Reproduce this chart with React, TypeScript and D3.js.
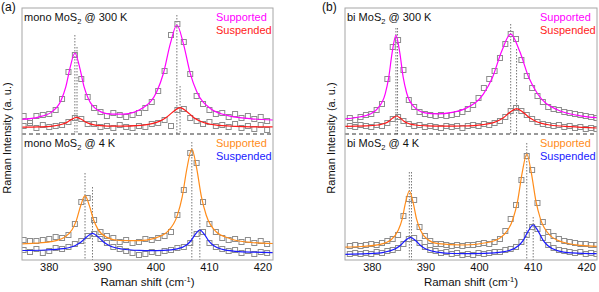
import React, { useEffect, useRef } from "react";
import * as d3 from "d3";

const FONT = "'Liberation Sans', Arial, Helvetica, sans-serif";

const xDomain = [375, 422];
const xTicks = [380, 390, 400, 410, 420];

// measured Raman shifts (cm-1)
const monoShift = [375.3, 376.5, 377.7, 378.9, 380.1, 381.3, 382.5, 383.7, 384.9, 386.1, 387.3, 388.5, 389.7, 390.9, 392.1, 393.3, 394.5, 395.7, 396.9, 398.1, 399.3, 400.5, 401.7, 402.9, 404.1, 405.3, 406.5, 407.7, 408.9, 410.1, 411.3, 412.5, 413.7, 414.9, 416.1, 417.3, 418.5, 419.7, 420.9];
const biShift = [375.9, 376.9, 377.9, 378.9, 379.9, 380.9, 381.9, 382.9, 383.9, 384.9, 385.9, 386.9, 387.9, 388.9, 389.9, 390.9, 391.9, 392.9, 393.9, 394.9, 395.9, 396.9, 397.9, 398.9, 399.9, 400.9, 401.9, 402.9, 403.9, 404.9, 405.9, 406.9, 407.9, 408.9, 409.9, 410.9, 411.9, 412.9, 413.9, 414.9, 415.9, 416.9, 417.9, 418.9, 419.9, 420.9, 421.9];

// measured intensities (a.u.)
const monoRTSup = [18, 13, 18, 19, 20, 24, 35, 62, 79, 55, 37, 26, 22, 18, 21, 19, 17, 19, 21, 26, 32, 43, 63, 99, 110, 92, 60, 38, 30, 24, 20, 21, 17, 20, 16, 18, 15, 17, 13];
const monoRTSus = [8, 11, 6, 9, 7, 8, 9, 12, 16, 15, 10, 10, 7, 8, 6, 9, 7, 6, 8, 7, 10, 11, 14, 8, 24, 25, 16, 13, 10, 12, 8, 9, 7, 10, 6, 8, 5, 9, 4];
const mono4KSup = [20, 19, 19, 20, 21, 23, 22, 25, 36, 58, 62, 40, 28, 24, 22, 18, 20, 17, 18, 21, 20, 22, 24, 28, 45, 70, 107, 97, 58, 36, 28, 22, 20, 21, 18, 20, 17, 19, 16];
const mono4KSus = [10, 8, 11, 7, 9, 12, 11, 13, 16, 19, 24, 26, 21, 17, 13, 11, 9, 7, 5, 6, 8, 7, 9, 10, 12, 13, 17, 26, 28, 17, 13, 11, 9, 10, 7, 9, 6, 8, 7];
const biRTSup = [16, 14, 17, 19, 20, 24, 30, 55, 87, 94, 64, 34, 27, 22, 20, 19, 18, 19, 18, 19, 20, 22, 25, 29, 36, 46, 55, 63, 76, 90, 100, 95, 74, 58, 46, 38, 32, 27, 25, 24, 22, 21, 20, 19, 18, 17, 16];
const biRTSus = [8, 7, 9, 8, 7, 9, 8, 11, 15, 17, 13, 10, 8, 9, 7, 8, 7, 6, 8, 7, 8, 6, 8, 9, 8, 10, 9, 11, 13, 17, 23, 26, 23, 19, 15, 12, 10, 9, 8, 9, 7, 8, 6, 7, 5, 6, 5];
const bi4KSup = [14, 15, 14, 15, 16, 15, 17, 19, 21, 25, 44, 61, 60, 33, 24, 19, 16, 16, 15, 14, 15, 14, 15, 15, 16, 17, 16, 18, 21, 29, 41, 55, 80, 104, 90, 57, 38, 28, 24, 21, 19, 18, 17, 16, 16, 15, 15];
const bi4KSus = [6, 7, 6, 7, 6, 8, 7, 9, 10, 12, 16, 21, 22, 17, 13, 10, 9, 7, 8, 6, 7, 5, 6, 5, 7, 6, 7, 8, 8, 10, 11, 13, 18, 25, 33, 31, 22, 15, 12, 10, 9, 8, 7, 8, 6, 7, 6];

// Lorentzian fits as [shift, intensity]
const monoRTSupFit = [[375, 14.6], [378.1, 16.9], [380.65, 22.4], [382.35, 34.1], [383.2, 47.1], [384.05, 67.4], [384.9, 81], [385.75, 67.7], [386.6, 47.7], [387.45, 35], [389.15, 24], [391.7, 19.8], [394, 19.9], [397.75, 26.5], [400.25, 42.5], [401.5, 61], [402.75, 89.8], [404, 109], [405.25, 89.7], [406.5, 60.7], [407.75, 42.1], [410.25, 25.6], [414, 17.9], [418, 15.2], [422, 14]];
const monoRTSusFit = [[375, 6.8], [378, 7.1], [380.7, 7.9], [382.5, 9.7], [383.4, 11.6], [384.3, 14.6], [385.2, 16.7], [386.1, 14.7], [387, 11.7], [387.9, 9.9], [389.7, 8.3], [392.4, 7.8], [394.2, 7.9], [398.1, 9.2], [400.7, 12.6], [402, 16.4], [403.3, 22.3], [404.6, 26.3], [405.9, 22.3], [407.2, 16.3], [408.5, 12.5], [411.1, 9.1], [415, 7.6], [418, 7.2], [422, 7.1]];
const mono4KSupFit = [[375, 16.2], [377.5, 16.8], [380.4, 18.3], [382.8, 22.2], [384.4, 30.5], [385.2, 39.9], [386, 54.5], [386.8, 64.3], [387.6, 54.6], [388.4, 40.2], [389.2, 30.9], [390.8, 22.9], [393.2, 19.5], [397, 19.3], [399.6, 21.4], [402.3, 28.7], [404.1, 44.9], [405, 63.2], [405.9, 92], [406.8, 111], [407.7, 91.9], [408.6, 63.1], [409.5, 44.8], [411.3, 28.5], [414, 21.3], [418, 17.5], [422, 16.5]];
const mono4KSusFit = [[375, 9.5], [379.4, 10], [382.7, 11.3], [384.9, 14.2], [386, 17.7], [387.1, 23], [388.2, 26.6], [389.3, 22.9], [390.4, 17.5], [391.5, 14], [393.7, 11], [397, 9.6], [399, 9.4], [401.5, 9.7], [404.05, 11.2], [405.75, 14.8], [406.6, 19], [407.45, 25.7], [408.3, 30], [409.15, 25.6], [410, 18.8], [410.85, 14.5], [412.55, 10.6], [415.1, 8.7], [418.5, 7.8], [422, 7.4]];
const biRTSupFit = [[375, 15.2], [379.1, 18.8], [381.1, 25.7], [382.5, 40.2], [383.15, 56.4], [383.8, 81.7], [384.5, 98.6], [385.2, 82], [385.85, 56.9], [386.5, 41], [387.9, 27.1], [389.9, 21.2], [392.3, 20.1], [395, 21.6], [397.4, 25.4], [400.8, 39.9], [402.5, 56.5], [404.2, 82.5], [405.9, 99.8], [407.6, 82.4], [409.3, 56.2], [411, 39.5], [414.4, 24.7], [419.5, 17.7], [422, 16.3]];
const biRTSusFit = [[375, 7.7], [379, 8.1], [381.1, 9], [382.5, 10.7], [383.2, 12.8], [383.9, 15.9], [384.6, 18], [385.3, 15.9], [386, 12.8], [386.7, 10.7], [388.1, 9], [390.2, 8.2], [393.5, 7.8], [397, 8], [400.75, 9.4], [403.25, 12.5], [404.5, 16.1], [405.75, 21.7], [407, 25.4], [408.25, 21.6], [409.5, 15.9], [410.75, 12.3], [413.25, 9], [417, 7.3], [422, 6]];
const bi4KSupFit = [[375, 12.9], [378, 13.5], [381.6, 15.7], [383.6, 20.2], [384.95, 29.9], [385.65, 40.7], [386.3, 57.6], [387, 69], [387.7, 57.7], [388.35, 40.8], [389.05, 30], [390.4, 20.5], [392.4, 16.3], [397, 15], [402.1, 18], [404.65, 25.3], [406.35, 41.2], [407.2, 59.2], [408.05, 87.3], [408.9, 106], [409.75, 87.2], [410.6, 59.1], [411.45, 41.1], [413.15, 25.1], [415.7, 17.7], [419, 14.6], [422, 13.6]];
const bi4KSusFit = [[375, 5.7], [379.2, 6.3], [382.2, 7.7], [384.2, 10.7], [385.2, 14], [386.2, 19.2], [387.2, 22.7], [388.2, 19.2], [389.2, 14], [390.2, 10.7], [392.2, 7.8], [395.2, 6.5], [399, 6.4], [402.9, 7.2], [405.6, 9.5], [407.4, 14.5], [408.3, 20.2], [409.2, 29.2], [410.1, 35], [411, 29.1], [411.9, 20.2], [412.8, 14.5], [414.6, 9.4], [417.3, 7.1], [422, 6.3]];

// peak positions and the height where the dotted guide starts
const monoRTSupPeaks = [384.9, 404.0];
const monoRTSupGuide = [99, 119];
const monoRTSusPeaks = [385.3, 404.6];
const monoRTSusGuide = [87, 48];
const mono4KSupPeaks = [386.8, 406.8];
const mono4KSupGuide = [87, 118];
const mono4KSusPeaks = [388.2, 408.3];
const mono4KSusGuide = [73, 49];
const biRTSupPeaks = [384.5, 405.9];
const biRTSupGuide = [106, 110];
const biRTSusPeaks = [384.8, 407.0];
const biRTSusGuide = [106, 85];
const bi4KSupPeaks = [387.0, 408.9];
const bi4KSupGuide = [88, 117];
const bi4KSusPeaks = [387.4, 410.1];
const bi4KSusGuide = [88, 43];

const C = { magenta: "#ff00ff", red: "#ff1a1a", orange: "#ff8c1a", blue: "#1a1aff" };

const panels = [
  {
    id: "a", letter: "(a)", layer: "mono", left: 22, right: 273, letterX: 1, yLabelX: 10.5,
    halves: [
      {
        temp: "300 K", top: 8, bottom: 134,
        series: [
          { name: "Supported", color: C.magenta, shift: monoShift, values: monoRTSup, fit: monoRTSupFit, peaks: monoRTSupPeaks, guide: monoRTSupGuide },
          { name: "Suspended", color: C.red, shift: monoShift, values: monoRTSus, fit: monoRTSusFit, peaks: monoRTSusPeaks, guide: monoRTSusGuide },
        ],
      },
      {
        temp: "4 K", top: 134, bottom: 260,
        series: [
          { name: "Supported", color: C.orange, shift: monoShift, values: mono4KSup, fit: mono4KSupFit, peaks: mono4KSupPeaks, guide: mono4KSupGuide },
          { name: "Suspended", color: C.blue, shift: monoShift, values: mono4KSus, fit: mono4KSusFit, peaks: mono4KSusPeaks, guide: mono4KSusGuide },
        ],
      },
    ],
  },
  {
    id: "b", letter: "(b)", layer: "bi", left: 345, right: 597, letterX: 322, yLabelX: 334.5,
    halves: [
      {
        temp: "300 K", top: 8, bottom: 134,
        series: [
          { name: "Supported", color: C.magenta, shift: biShift, values: biRTSup, fit: biRTSupFit, peaks: biRTSupPeaks, guide: biRTSupGuide },
          { name: "Suspended", color: C.red, shift: biShift, values: biRTSus, fit: biRTSusFit, peaks: biRTSusPeaks, guide: biRTSusGuide },
        ],
      },
      {
        temp: "4 K", top: 134, bottom: 260,
        series: [
          { name: "Supported", color: C.orange, shift: biShift, values: bi4KSup, fit: bi4KSupFit, peaks: bi4KSupPeaks, guide: bi4KSupGuide },
          { name: "Suspended", color: C.blue, shift: biShift, values: bi4KSus, fit: bi4KSusFit, peaks: bi4KSusPeaks, guide: bi4KSusGuide },
        ],
      },
    ],
  },
];

const App = () => {
  const ref = useRef<SVGSVGElement>(null);

  useEffect(() => {
    const svg = d3.select(ref.current);
    svg.selectAll("*").remove();
    const defs = svg.append("defs");

    panels.forEach((p) => {
      const x = d3.scaleLinear().domain(xDomain).range([p.left, p.right]);
      const top = p.halves[0].top;
      const bottom = p.halves[1].bottom;

      defs.append("clipPath").attr("id", `clip-${p.id}`)
        .append("rect").attr("x", p.left).attr("y", top)
        .attr("width", p.right - p.left).attr("height", bottom - top);

      const plot = svg.append("g").attr("clip-path", `url(#clip-${p.id})`);

      p.halves.forEach((h) => {
        const y = d3.scaleLinear().domain([0, 126]).range([h.bottom, h.top]);
        const line = d3.line<number[]>()
          .x((d) => x(d[0]))
          .y((d) => y(d[1]))
          .curve(d3.curveMonotoneX);

        // dotted guides at the peak positions
        h.series.forEach((s) => {
          s.peaks.forEach((c, i) => {
            plot.append("line")
              .attr("x1", x(c)).attr("x2", x(c))
              .attr("y1", y(s.guide[i])).attr("y2", y(0))
              .attr("stroke", "#555").attr("stroke-width", 0.8)
              .attr("stroke-dasharray", "1.5,1.5");
          });
        });

        // measured points
        h.series.forEach((s) => {
          plot.selectAll(null)
            .data(d3.zip(s.shift, s.values))
            .join("rect")
            .attr("x", (d) => x(d[0]) - 2.5)
            .attr("y", (d) => y(d[1]) - 2.5)
            .attr("width", 5).attr("height", 5)
            .attr("fill", "none").attr("stroke", "#8c8c8c").attr("stroke-width", 1);
        });

        // fits
        h.series.forEach((s) => {
          plot.append("path").datum(s.fit)
            .attr("d", line).attr("fill", "none")
            .attr("stroke", s.color).attr("stroke-width", 1.2);
        });

        // titles and legend
        const title = svg.append("text")
          .attr("x", p.left + 2).attr("y", h.top + 12.5)
          .attr("font-family", FONT).attr("font-size", 11).attr("fill", "#111");
        title.append("tspan").text(`${p.layer} MoS`);
        title.append("tspan").attr("font-size", 7.5).attr("dy", 3).text("2");
        title.append("tspan").attr("dy", -3).text(` @ ${h.temp}`);

        h.series.forEach((s, i) => {
          svg.append("text")
            .attr("x", p.right - 57).attr("y", h.top + 12.5 + i * 13)
            .attr("font-family", FONT).attr("font-size", 11)
            .attr("fill", s.color).text(s.name);
        });
      });

      // separator between the two temperatures
      svg.append("line")
        .attr("x1", p.left).attr("x2", p.right)
        .attr("y1", p.halves[0].bottom).attr("y2", p.halves[0].bottom)
        .attr("stroke", "#333").attr("stroke-width", 1).attr("stroke-dasharray", "4,3");

      // frame
      svg.append("rect")
        .attr("x", p.left).attr("y", top)
        .attr("width", p.right - p.left).attr("height", bottom - top)
        .attr("fill", "none").attr("stroke", "#a6a6a6").attr("stroke-width", 1);

      // x axis
      const axis = svg.append("g")
        .attr("transform", `translate(0,${bottom})`)
        .call(d3.axisBottom(x).tickValues(xTicks).tickSize(0).tickPadding(3).tickFormat(d3.format("d")));
      axis.select(".domain").remove();
      axis.selectAll("text").attr("font-family", FONT).attr("font-size", 11).attr("fill", "#111");

      const xt = svg.append("text")
        .attr("x", (p.left + p.right) / 2).attr("y", 286)
        .attr("text-anchor", "middle")
        .attr("font-family", FONT).attr("font-size", 11.5).attr("fill", "#111");
      xt.append("tspan").text("Raman shift (cm");
      xt.append("tspan").attr("font-size", 7.5).attr("dy", -4).text("-1");
      xt.append("tspan").attr("dy", 4).text(")");

      // y label
      svg.append("text")
        .attr("transform", `translate(${p.yLabelX},138) rotate(-90)`)
        .attr("text-anchor", "middle")
        .attr("font-family", FONT).attr("font-size", 11).attr("fill", "#111")
        .text("Raman Intensity (a. u.)");

      svg.append("text")
        .attr("x", p.letterX).attr("y", 11)
        .attr("font-family", FONT).attr("font-size", 12).attr("fill", "#111")
        .text(p.letter);
    });
  }, []);

  return (
    <svg
      ref={ref}
      width={599}
      height={292}
      style={{ position: "absolute", left: 0, top: 0, background: "#fff" }}
    />
  );
};

export default App;
